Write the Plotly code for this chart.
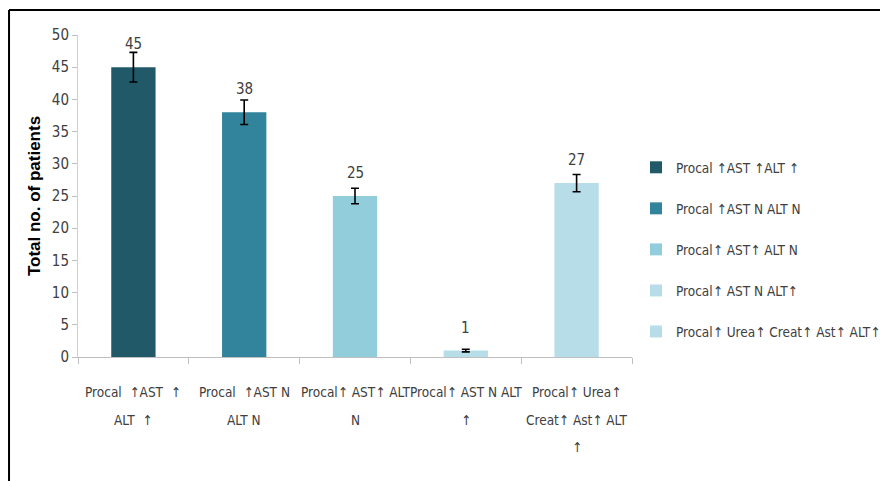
import plotly.graph_objects as go

categories = [
    "Procal ↑AST ↑ ALT ↑",
    "Procal ↑AST N ALT N",
    "Procal↑ AST↑ ALT N",
    "Procal↑ AST N ALT ↑",
    "Procal↑ Urea↑ Creat↑ Ast↑ ALT ↑",
]
legend_names = [
    "Procal ↑AST ↑ALT ↑",
    "Procal ↑AST N ALT N",
    "Procal↑ AST↑ ALT N",
    "Procal↑ AST N ALT↑",
    "Procal↑ Urea↑ Creat↑ Ast↑ ALT↑",
]
tick_lines = [
    ["Procal  ↑AST  ↑", "ALT  ↑"],
    ["Procal  ↑AST N", "ALT N"],
    ["Procal↑ AST↑ ALT", "N"],
    ["Procal↑ AST N ALT", "↑"],
    ["Procal↑ Urea↑", "Creat↑ Ast↑ ALT", "↑"],
]
values = [45, 38, 25, 1, 27]
errors = [2.3, 1.9, 1.2, 0.2, 1.35]
colors = ["#215968", "#31849B", "#92CDDC", "#B7DEE8", "#B7DEE8"]
y_ticks = [0, 5, 10, 15, 20, 25, 30, 35, 40, 45, 50]

NARROW = "DejaVu Sans Condensed"


def nfont(size, color="#404040"):
    return dict(family=NARROW, size=size, color=color)


fig = go.Figure()
for i, cat in enumerate(categories):
    fig.add_trace(go.Bar(
        x=[cat], y=[values[i]], name=legend_names[i],
        marker=dict(color=colors[i], line=dict(width=0)),
        width=0.4,
        error_y=dict(type="data", array=[errors[i]], color="black", thickness=1.6, width=4),
        legendgroup=f"g{i}",
        showlegend=True,
    ))

annotations = []
for i, cat in enumerate(categories):
    annotations.append(dict(
        x=cat, y=values[i], xref="x", yref="y",
        text=str(values[i]), showarrow=False, yanchor="middle", yshift=23,
        font=nfont(15),
    ))
    for j, line in enumerate(tick_lines[i]):
        annotations.append(dict(
            x=cat, y=0, xref="x", yref="paper",
            text=line, showarrow=False, yanchor="middle",
            yshift=-35 - 27.5 * j,
            font=nfont(13.5),
        ))

fig.update_layout(
    width=880, height=481,
    margin=dict(l=78, r=248, t=35, b=124, autoexpand=False),
    paper_bgcolor="white", plot_bgcolor="white",
    barmode="overlay",
    showlegend=True,
    legend=dict(
        x=1.0072, y=0.6366, xanchor="left", yanchor="top",
        font=nfont(13.5),
        tracegroupgap=20.5, itemwidth=30,
        bgcolor="rgba(0,0,0,0)",
    ),
    annotations=annotations,
    xaxis=dict(
        type="category", categoryorder="array", categoryarray=categories,
        showticklabels=False, showline=True, linecolor="#BFBFBF", linewidth=1,
        ticks="outside", tickson="boundaries", ticklen=6, tickcolor="#BFBFBF",
        showgrid=False, zeroline=False, range=[-0.5, 4.5],
    ),
    yaxis=dict(
        range=[0, 50], tickvals=y_ticks, showline=True, linecolor="#D0D0D0", linewidth=1,
        ticks="outside", ticklen=5, tickcolor="#BFBFBF", showgrid=False, zeroline=False,
        tickfont=nfont(15),
        title=dict(text="<b>Total no. of patients</b>", standoff=6,
                   font=dict(family="Liberation Sans, Arial, sans-serif", size=17, color="black")),
    ),
    shapes=[
        dict(type="line", xref="paper", yref="paper", x0=-0.1245, x1=1.46, y0=1.0776, y1=1.0776,
             line=dict(color="black", width=2)),
        dict(type="line", xref="paper", yref="paper", x0=-0.1245, x1=-0.1245, y0=1.0776, y1=-0.4,
             line=dict(color="black", width=2)),
    ],
)

fig.write_html("out.html", config={"displayModeBar": False},
               post_script="document.body.style.margin='0';")
